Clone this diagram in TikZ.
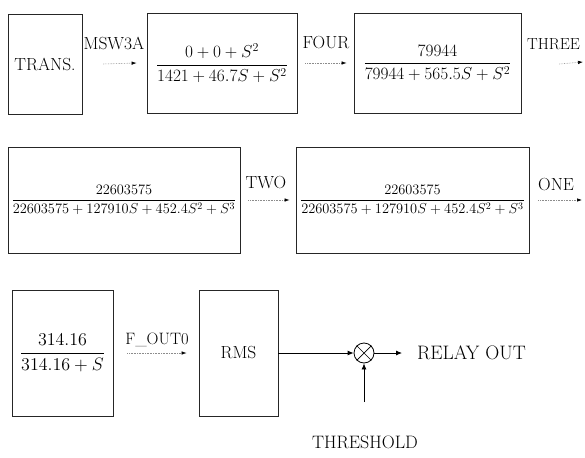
\documentclass[tikz,border=0pt]{standalone}
\usepackage{fontspec}
\usepackage{graphicx}
\usetikzlibrary{arrows.meta}
\begin{document}
\begin{tikzpicture}[x=1pt,y=-1pt,
  box/.style={draw=black!85, line width=0.8pt, inner sep=0pt, align=center},
  txt/.style={font=\fontsize{17.5}{21}\selectfont},
  lbl/.style={inner sep=0pt, txt},
  lblarrow/.style={draw=black!45, densely dotted, line width=0.6pt,
    -{Latex[length=5pt,width=3.5pt,color=black]}},
  mainarrow/.style={draw=black, line width=0.8pt, -{Latex[length=6pt,width=5pt]}},
  fa/.style={font=\fontsize{16.5}{20}\selectfont},
  fb/.style={font=\fontsize{14}{17}\selectfont},
  fc/.style={font=\fontsize{12}{14}\selectfont}]
\useasboundingbox (0,0) rectangle (585,457);

% row 1
\node[box, txt, minimum width=74pt, minimum height=100pt] (trans) at (45,64) {TRANS.};
\node[box, fa, minimum width=150pt, minimum height=100pt] (f1) at (222,63)
  {$\displaystyle\frac{0+0+S^2}{1421+46.7S+S^2}$};
\node[box, fa, minimum width=167pt, minimum height=100pt] (f2) at (437.5,63)
  {$\displaystyle\frac{79944}{79944+565.5S+S^2}$};

% row 2
\node[box, fb, minimum width=232pt, minimum height=106pt] (f3) at (124,200)
  {$\displaystyle\frac{22603575}{22603575+127910S+452.4S^2+S^3}$};
\node[box, fb, minimum width=233pt, minimum height=106pt] (f4) at (412.5,200)
  {$\displaystyle\frac{22603575}{22603575+127910S+452.4S^2+S^3}$};

% row 3
\node[box, fc, minimum width=101pt, minimum height=126pt] (f5) at (62.5,353)
  {\scalebox{1.5}{$\displaystyle\frac{314.16}{314.16+S}$}};
\node[box, txt, minimum width=79pt, minimum height=126pt] (rms) at (238.5,353) {RMS};
\node[circle, draw=black, line width=0.8pt, minimum size=20pt, inner sep=0pt] (mult) at (364,353) {};
\draw[line width=0.7pt] (mult.north east) -- (mult.south west) (mult.north west) -- (mult.south east);

% labels
\node[lbl] (l1) at (114,43) {MSW3A};
\node[lbl] (l2) at (326,43) {FOUR};
\node[lbl, font=\fontsize{16}{19}\selectfont, anchor=west] (l3) at (527,44) {THREE};
\node[lbl] (l4) at (266,183) {TWO};
\node[lbl] (l5) at (556,185) {ONE};
\node[lbl, font=\fontsize{16.5}{20}\selectfont] (l6) at (157,340) {F\_OUT0};
\node[lbl, font=\fontsize{19.5}{23}\selectfont, anchor=west] (relay) at (417,353) {\addfontfeature{LetterSpace=8}RELAY OUT};
\node[lbl, font=\fontsize{18}{21}\selectfont] (thr) at (365,442) {THRESHOLD};

\coordinate (c3e) at (583,62);
\coordinate (c5e) at (582,200);
\coordinate (thrtop) at (364,402);

% label arrows
\draw[lblarrow] ([xshift=21pt]trans.east) -- ([xshift=-10pt]f1.west);
\draw[lblarrow] ([xshift=8pt]f1.east) -- ([xshift=-7pt]f2.west);
\draw[lblarrow] ([xshift=38pt,yshift=-1pt]f2.east) -- (c3e);
\draw[lblarrow] ([xshift=8pt]f3.east) -- ([xshift=-6pt]f4.west);
\draw[lblarrow] ([xshift=9pt]f4.east) -- (c5e);
\draw[lblarrow] ([xshift=14pt]f5.east) -- ([xshift=-12pt]rms.west);

% main arrows
\draw[mainarrow] (rms.east) -- (mult.west);
\draw[mainarrow] (mult.east) -- ([xshift=-15pt]relay.west);
\draw[mainarrow] (thrtop) -- (mult.south);
\end{tikzpicture}
\end{document}
